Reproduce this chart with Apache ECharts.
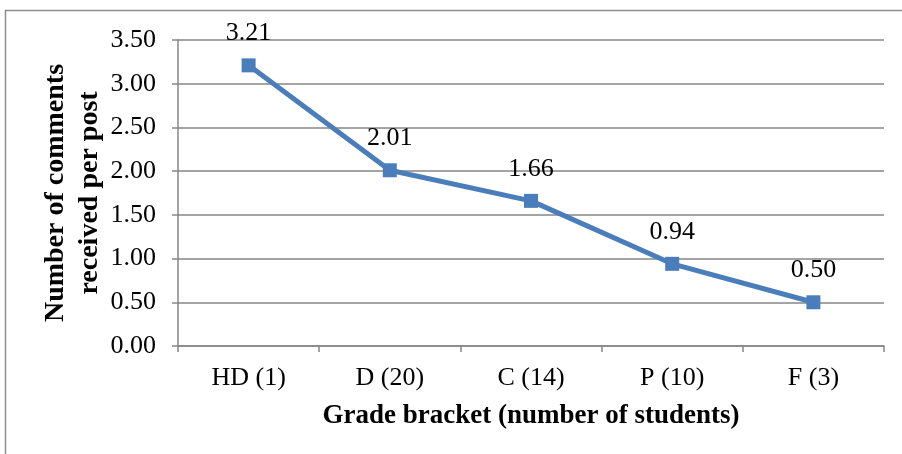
<!DOCTYPE html>
<html>
<head>
<meta charset="utf-8">
<script src="https://cdn.jsdelivr.net/npm/echarts@6/dist/echarts.min.js"></script>
<style>
    html, body { margin: 0; padding: 0; background: #fff; }
    #chart { width: 902px; height: 454px; }
</style>
</head>
<body>
<div id="chart"></div>
<script>
var grades = ['HD (1)', 'D (20)', 'C (14)', 'P (10)', 'F (3)'];
var commentsPerPost = [3.21, 2.01, 1.66, 0.94, 0.50];

var font = 'Liberation Serif, Times New Roman, serif';
var chart = echarts.init(document.getElementById('chart'));

var option = {
    animation: false,
    graphic: [{
        type: 'rect',
        shape: { x: 5.5, y: 10.5, width: 1000, height: 1000 },
        style: { fill: 'none', stroke: '#8c8c8c', lineWidth: 1.5 },
        silent: true
    }],
    grid: { left: 178, right: 18, top: 40, bottom: 108 },
    xAxis: {
        type: 'category',
        data: grades,
        boundaryGap: true,
        name: 'Grade bracket (number of students)',
        nameLocation: 'middle',
        nameGap: 57,
        nameMoveOverlap: false,
        nameTextStyle: { fontFamily: font, fontSize: 27, fontWeight: 'bold', color: '#000' },
        axisLine: { lineStyle: { color: '#868686', width: 1.5 } },
        axisTick: { show: true, length: 6, alignWithLabel: false, lineStyle: { color: '#868686', width: 1.5 } },
        axisLabel: { fontFamily: font, fontSize: 26, color: '#000', margin: 19 },
        splitLine: { show: false }
    },
    yAxis: {
        type: 'value',
        min: 0,
        max: 3.5,
        interval: 0.5,
        name: 'Number of comments\nreceived per post',
        nameLocation: 'middle',
        nameGap: 71,
        nameMoveOverlap: false,
        nameRotate: 90,
        nameTextStyle: { fontFamily: font, fontSize: 28, fontWeight: 'bold', color: '#000', lineHeight: 34 },
        axisLine: { show: true, lineStyle: { color: '#868686', width: 1.5 } },
        axisTick: { show: true, length: 6, lineStyle: { color: '#868686', width: 1.5 } },
        axisLabel: {
            fontFamily: font, fontSize: 26, color: '#000', margin: 22,
            formatter: function (v) { return v.toFixed(2); }
        },
        splitLine: { show: true, lineStyle: { color: '#868686', width: 1.5 } }
    },
    series: [{
        type: 'line',
        data: commentsPerPost,
        symbol: 'rect',
        symbolSize: 14,
        lineStyle: { color: '#4a7ebb', width: 5 },
        itemStyle: { color: '#4a7ebb' },
        label: {
            show: true,
            position: 'top',
            distance: 12,
            fontFamily: font,
            fontSize: 26,
            color: '#000',
            formatter: function (p) { return p.value.toFixed(2); }
        }
    }]
};

chart.setOption(option);
</script>
</body>
</html>
